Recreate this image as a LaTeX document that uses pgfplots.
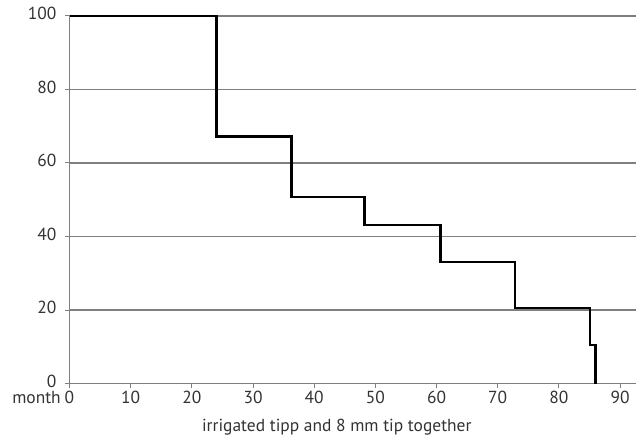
\documentclass[border=0pt]{standalone}
\usepackage{fontspec}
\setmainfont{PT Sans}
\usepackage{pgfplots}
\pgfplotsset{compat=1.18}
\definecolor{txt}{HTML}{333333}
\definecolor{gridc}{HTML}{7F7F7F}
\begin{document}
\begin{tikzpicture}
\begin{axis}[
  name=ax,
  scale only axis,
  width=566.5bp, height=367.5bp,
  xmin=0, xmax=92.6, ymin=0, ymax=100,
  axis x line=bottom, axis y line=left,
  axis line style={-, draw=gridc, line width=1.3bp},
  xtick={0,10,...,90}, ytick={0,20,...,100},
  xticklabels={\llap{month\hspace{4bp}}0,10,20,30,40,50,60,70,80,90},
  tick align=outside, tick style={draw=gridc, line width=1bp},
  major tick length=4bp,
  ymajorgrids, grid style={draw=gridc, line width=1.3bp},
  tick label style={font=\fontsize{17.5}{20}\selectfont, text=txt},
  /pgf/number format/assume math mode=true,
  xticklabel style={yshift=-2.5bp, inner sep=1bp},
  yticklabel style={inner sep=1bp, xshift=-8bp, yshift=2.5bp},
  xlabel={irrigated tipp and 8 mm tip together},
  xlabel style={font=\fontsize{17.5}{20}\selectfont, text=txt, yshift=-11bp, xshift=-16bp},
  clip=false,
]
\addplot[const plot, black, line width=2.4bp] coordinates {
(0,100) (24.05,67.2) (36.3,50.8) (48.2,43.1) (60.65,33.0) (72.8,20.6) (85.05,10.4) (86.0,0)
};
\end{axis}
\pgfresetboundingbox
\path[use as bounding box] ([shift={(-69.5bp,-59.5bp)}]ax.south west) rectangle ([shift={(0bp,16bp)}]ax.north east);
\end{tikzpicture}
\end{document}
